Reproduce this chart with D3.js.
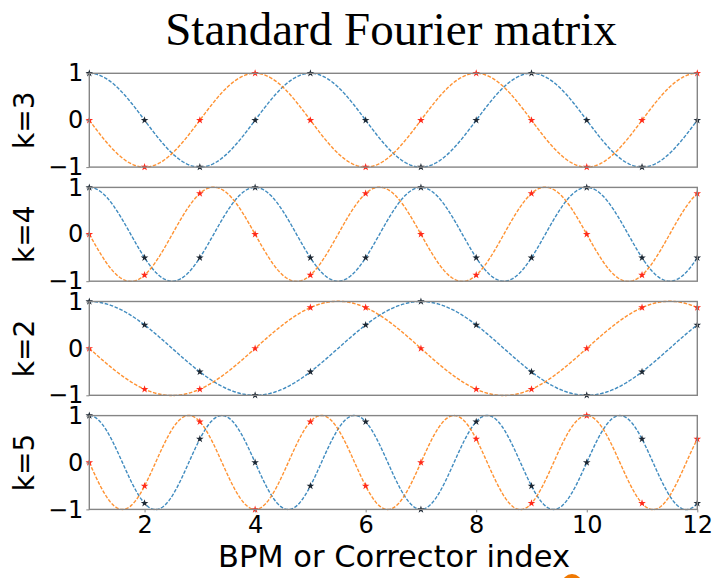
<!DOCTYPE html>
<html>
<head>
<meta charset="utf-8">
<script src="https://cdn.jsdelivr.net/npm/d3@7"></script>
<style>
  body { margin: 0; background: #fff; }
  svg { display: block; }
</style>
</head>
<body>
<div class="wrapper"></div>
<script>
// data

var rowLabels = ['k=3', 'k=4', 'k=2', 'k=5'];
var index = [1, 2, 3, 4, 5, 6, 7, 8, 9, 10, 11, 12];
var xTicks = [2, 4, 6, 8, 10, 12];
var yTicks = [-1, 0, 1];

// real part (blue curve, dark stars)
var realK3 = [1, 0, -1, 0, 1, 0, -1, 0, 1, 0, -1, 0];
var realK4 = [1, -0.5, -0.5, 1, -0.5, -0.5, 1, -0.5, -0.5, 1, -0.5, -0.5];
var realK2 = [1, 0.5, -0.5, -1, -0.5, 0.5, 1, 0.5, -0.5, -1, -0.5, 0.5];
var realK5 = [1, -0.87, 0.5, 0, -0.5, 0.87, -1, 0.87, -0.5, 0, 0.5, -0.87];

// imaginary part (orange curve, red stars)
var imagK3 = [0, -1, 0, 1, 0, -1, 0, 1, 0, -1, 0, 1];
var imagK4 = [0, -0.87, 0.87, 0, -0.87, 0.87, 0, -0.87, 0.87, 0, -0.87, 0.87];
var imagK2 = [0, -0.87, -0.87, 0, 0.87, 0.87, 0, -0.87, -0.87, 0, 0.87, 0.87];
var imagK5 = [0, -0.5, 0.87, -1, 0.87, -0.5, 0, 0.5, -0.87, 1, -0.87, 0.5];

var realRows = [realK3, realK4, realK2, realK5];
var imagRows = [imagK3, imagK4, imagK2, imagK5];

// layout

var W = 722, H = 578;
var left = 89.3, right = 697.3;
var top0 = 73.3, step = 114.1, panelH = 93.8;

var blue = '#1f77b4', orange = '#ff7f0e', frame = '#858585';

var svg = d3.select('.wrapper').append('svg')
    .attr('width', W)
    .attr('height', H);

var x = d3.scaleLinear().domain([1, 12]).range([left, right]);

// smooth curve through the 12 samples (band-limited interpolation of the dots)
var trig = (vals) => {
    var N = vals.length;
    var a = [], b = [];
    for (var m = 0; m <= N / 2; m++) {
        var sc = 0, ss = 0;
        vals.forEach((v, n) => {
            sc += v * Math.cos(2 * Math.PI * m * n / N);
            ss += v * Math.sin(2 * Math.PI * m * n / N);
        });
        var w = (m === 0 || m === N / 2) ? 1 / N : 2 / N;
        a.push(sc * w); b.push(ss * w);
    }
    return (t) => {
        var s = 0;
        for (var m = 0; m < a.length; m++) {
            s += a[m] * Math.cos(2 * Math.PI * m * t / N) + b[m] * Math.sin(2 * Math.PI * m * t / N);
        }
        return s;
    };
};

var fine = d3.range(1, 12.0001, 0.02);

rowLabels.forEach((lab, r) => {
    var y0 = top0 + r * step;
    var y = d3.scaleLinear().domain([-1, 1]).range([y0 + panelH, y0]);
    var g = svg.append('g');

    var line = d3.line().x(d => x(d[0])).y(d => y(d[1]));

    [[realRows[r], blue], [imagRows[r], orange]].forEach(pair => {
        var f = trig(pair[0]);
        g.append('path')
            .datum(fine.map(t => [t, f(t - 1)]))
            .attr('d', line)
            .attr('fill', 'none')
            .attr('stroke', pair[1])
            .attr('stroke-width', 1.4)
            .attr('stroke-dasharray', '3.6,1.6')
            .attr('opacity', 0.85);
    });

    // stars at the sample points
    var star = d3.symbol().type(d3.symbolStar).size(18);
    [[realRows[r], '#1c2733'], [imagRows[r], '#ff2a1a']].forEach(pair => {
        g.selectAll(null)
            .data(pair[0])
            .enter()
            .append('path')
            .attr('d', star)
            .attr('transform', (d, i) => `translate(${x(index[i])},${y(d)})`)
            .attr('fill', pair[1]);
    });

    // frame
    g.append('rect')
        .attr('x', left).attr('y', y0)
        .attr('width', right - left).attr('height', panelH)
        .attr('fill', 'none')
        .attr('stroke', frame)
        .attr('stroke-width', 1.4);

    var ya = svg.append('g')
        .attr('transform', `translate(${left},0)`)
        .call(d3.axisLeft(y).tickValues(yTicks).tickSize(3).tickPadding(3)
            .tickFormat(d => d < 0 ? '\u2212' + Math.abs(d) : d));
    ya.select('.domain').remove();
    ya.selectAll('line').attr('stroke', frame);
    ya.selectAll('text')
        .attr('font-family', 'DejaVu Sans')
        .attr('font-size', 24)
        .attr('fill', '#000');

    svg.append('text')
        .attr('transform', `translate(34,${y0 + panelH / 2}) rotate(-90)`)
        .attr('text-anchor', 'middle')
        .attr('font-family', 'DejaVu Sans')
        .attr('font-size', 28)
        .text(lab);

    if (r === rowLabels.length - 1) {
        var xa = svg.append('g')
            .attr('transform', `translate(0,${y0 + panelH})`)
            .call(d3.axisBottom(x).tickValues(xTicks).tickSize(3).tickPadding(4));
        xa.select('.domain').remove();
        xa.selectAll('line').attr('stroke', frame);
        xa.selectAll('text')
            .attr('font-family', 'DejaVu Sans')
            .attr('font-size', 24)
            .attr('fill', '#000');
    }
});

svg.append('text')
    .attr('x', 391).attr('y', 45)
    .attr('text-anchor', 'middle')
    .attr('font-family', 'Liberation Serif')
    .attr('font-size', 47)
    .text('Standard Fourier matrix');

svg.append('text')
    .attr('x', 394).attr('y', 567)
    .attr('text-anchor', 'middle')
    .attr('font-family', 'DejaVu Sans')
    .attr('font-size', 30.5)
    .text('BPM or Corrector index');

// orange badge cut off at the bottom edge
svg.append('circle')
    .attr('cx', 572).attr('cy', 584)
    .attr('r', 10)
    .attr('fill', '#f07800');
</script>
</body>
</html>
